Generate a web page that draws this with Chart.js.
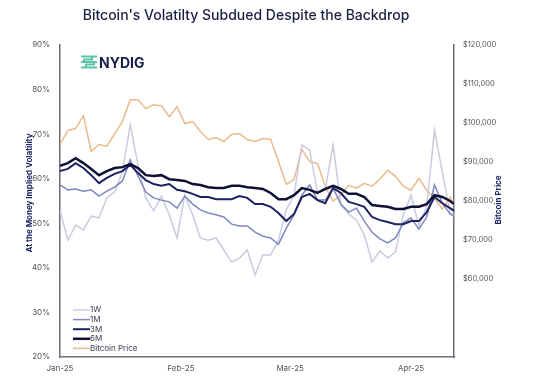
<!DOCTYPE html>
<html><head><meta charset="utf-8">
<script src="https://cdn.jsdelivr.net/npm/chart.js@4/dist/chart.umd.min.js"></script>
<style>html,body{margin:0;padding:0;background:#fff}#wrap{width:555px;height:380px;position:relative}canvas{display:block}</style>
</head><body><div id="wrap"><canvas id="c" width="555" height="380"></canvas></div>
<script>
const chartTitle = "Bitcoin's Volatilty Subdued Despite the Backdrop";
const leftAxisTitle = 'At the Money Implied Volatility';
const rightAxisTitle = 'Bitcoin Price';
const seriesNames = ['1W', '1M', '3M', '6M', 'Bitcoin Price'];
// day offsets from 1 Jan 2025
const days = [0,2,4,6,8,10,12,14,16,18,20,22,24,26,28,30,32,34,36,38,40,42,44,46,48,50,52,54,56,58,60,62,64,66,68,70,72,74,76,78,80,82,84,86,88,90,92,94,96,98,100,101];
const monthTickDays = [0, 31, 59, 90];
const monthTickLabels = ['Jan-25', 'Feb-25', 'Mar-25', 'Apr-25'];
const vol1W = [53.0,46.2,49.6,48.5,51.6,51.2,55.7,57.0,61.5,72.1,63.1,55.7,52.8,56.1,51.9,46.7,56.3,51.9,46.7,46.2,46.7,44.0,41.3,42.2,44.0,38.4,42.9,42.9,46.2,53.0,56.3,67.6,66.4,57.0,57.5,67.6,54.1,52.1,50.7,47.4,41.3,43.8,42.2,43.6,51.9,56.3,49.4,53.7,70.9,61.5,52.3,51.9];
const vol1M = [58.6,57.5,57.7,57.2,57.5,56.1,57.2,58.1,59.5,64.2,60.6,57.0,55.7,55.2,54.8,53.4,56.1,54.3,53.0,52.3,51.9,51.4,49.8,49.4,49.4,48.0,47.1,46.7,45.3,48.9,51.9,56.3,58.6,55.2,55.2,57.9,54.3,52.5,53.4,50.5,48.0,46.5,45.6,46.7,50.1,51.2,48.7,51.4,58.6,54.5,52.1,51.6];
const vol3M = [61.7,62.2,63.5,62.4,60.8,59.0,60.2,61.1,61.7,63.1,61.3,59.7,58.8,58.4,58.8,57.5,57.2,56.6,55.9,55.9,55.4,55.4,55.4,56.1,55.7,54.3,54.3,53.7,52.3,50.5,52.1,55.9,56.6,55.2,54.5,57.9,56.8,54.8,54.3,53.7,51.4,50.7,50.3,49.8,49.8,50.5,50.5,52.5,55.9,54.5,53.4,52.8];
const vol6M = [62.9,63.5,64.6,63.5,62.2,60.8,61.7,62.4,62.6,63.3,62.4,60.8,60.6,60.8,59.9,59.7,59.5,58.8,58.6,58.1,57.9,57.9,58.4,58.4,58.1,57.9,57.7,56.8,55.4,55.4,56.3,57.9,57.5,56.8,57.7,58.4,57.7,56.6,56.6,55.9,54.1,53.9,53.7,53.2,53.2,53.7,53.7,54.3,56.3,55.9,55.0,54.3];
const btcPrice = [94490,98060,98570,101890,92700,94490,93980,97300,100360,105970,105970,103670,104690,104440,101630,104180,99850,100360,97810,95770,96280,95260,97040,97300,95770,95260,96020,95770,90150,84290,85560,93220,90150,89640,83780,79950,81480,84030,83270,84540,83780,85560,87860,86330,83780,82760,85820,82760,80720,77910,80970,78930];

const FONT = 'Inter, "Liberation Sans", Arial, sans-serif';
const pts = arr => arr.map((v, i) => ({x: days[i], y: v}));
const styles = [
  {color: '#c9cbdf', width: 1.5},
  {color: '#8187bf', width: 1.5},
  {color: '#1e2262', width: 2},
  {color: '#0e1035', width: 2.5},
  {color: '#e9ba8c', width: 1.5}
];
const values = [vol1W, vol1M, vol3M, vol6M, btcPrice];
const datasets = values.map((arr, i) => ({
  label: seriesNames[i],
  data: pts(arr),
  borderColor: styles[i].color,
  backgroundColor: styles[i].color,
  borderWidth: styles[i].width,
  pointRadius: 0,
  tension: 0,
  yAxisID: i === 4 ? 'y1' : 'y',
  order: i === 4 ? 10 : 5 - i
}));

const decor = {
  id: 'decor',
  afterDraw(chart) {
    const ctx = chart.ctx;
    ctx.save();
    // title
    ctx.fillStyle = '#1d2045';
    ctx.font = '500 14px ' + FONT;
    ctx.textAlign = 'center';
    ctx.textBaseline = 'middle';
    ctx.fillText(chartTitle, 246, 16);
    // axis titles (both read bottom to top)
    ctx.fillStyle = '#1e2462';
    ctx.font = 'bold 8px ' + FONT;
    [[leftAxisTitle, 30, 193], [rightAxisTitle, 499, 200]].forEach(([t, x, y]) => {
      ctx.save();
      ctx.translate(x, y);
      ctx.rotate(-Math.PI / 2);
      ctx.fillText(t, 0, 0);
      ctx.restore();
    });
    // logo icon
    ctx.strokeStyle = '#5cc3a7';
    ctx.lineWidth = 2;
    ctx.lineCap = 'butt';
    ctx.beginPath();
    ctx.moveTo(81, 56.5); ctx.lineTo(97, 56.5);
    ctx.moveTo(81, 67.5); ctx.lineTo(97, 67.5);
    ctx.moveTo(92, 56.5); ctx.lineTo(92, 59.5); ctx.lineTo(84, 59.5); ctx.lineTo(84, 62);
    ctx.moveTo(81, 62); ctx.lineTo(97, 62);
    ctx.moveTo(94, 62); ctx.lineTo(94, 64.5); ctx.lineTo(86, 64.5); ctx.lineTo(86, 67.5);
    ctx.stroke();
    ctx.fillStyle = '#1b1f4b';
    ctx.font = 'bold 14px ' + FONT;
    ctx.textAlign = 'left';
    ctx.textBaseline = 'alphabetic';
    ctx.fillText('NYDIG', 99, 68);
    // legend
    ctx.font = '8px ' + FONT;
    ctx.textBaseline = 'middle';
    seriesNames.forEach((name, i) => {
      const y = 310 + i * 9.6;
      ctx.strokeStyle = styles[i].color;
      ctx.lineWidth = styles[i].width;
      ctx.beginPath();
      ctx.moveTo(73, y); ctx.lineTo(90, y);
      ctx.stroke();
      ctx.fillStyle = '#3a3a4a';
      ctx.fillText(name, 90, y);
    });
    ctx.restore();
  }
};

new Chart(document.getElementById('c'), {
  type: 'line',
  data: {datasets},
  options: {
    responsive: false,
    animation: false,
    layout: {padding: {top: 45, left: 0, right: 0, bottom: 0}},
    plugins: {legend: {display: false}, title: {display: false}, tooltip: {enabled: false}},
    scales: {
      x: {
        type: 'linear', min: 0, max: 101,
        grid: {display: false, drawTicks: false},
        border: {display: true, color: '#6b6e7a', width: 1.5},
        afterBuildTicks: s => { s.ticks = monthTickDays.map(v => ({value: v})); },
        afterFit: s => { s.height = 23; },
        ticks: {
          autoSkip: false, maxRotation: 0, padding: 7,
          color: '#555', font: {size: 8, family: FONT},
          callback: v => monthTickLabels[monthTickDays.indexOf(v)]
        }
      },
      y: {
        position: 'left', min: 20, max: 90,
        grid: {display: false, drawTicks: false},
        border: {display: true, color: '#6b6e7a', width: 1.5},
        afterFit: s => { s.width = 60; },
        ticks: {stepSize: 10, padding: 10, color: '#555', font: {size: 8, family: FONT}, callback: v => v + '%'}
      },
      y1: {
        position: 'right', min: 40000, max: 120000,
        grid: {display: false, drawTicks: false},
        border: {display: true, color: '#6b6e7a', width: 1.5},
        afterFit: s => { s.width = 101; },
        ticks: {stepSize: 10000, padding: 9, color: '#555', font: {size: 7.5, family: FONT},
          callback: v => v < 60000 ? null : '$' + v.toLocaleString('en-US')}
      }
    }
  },
  plugins: [decor]
});
</script>
</body></html>
